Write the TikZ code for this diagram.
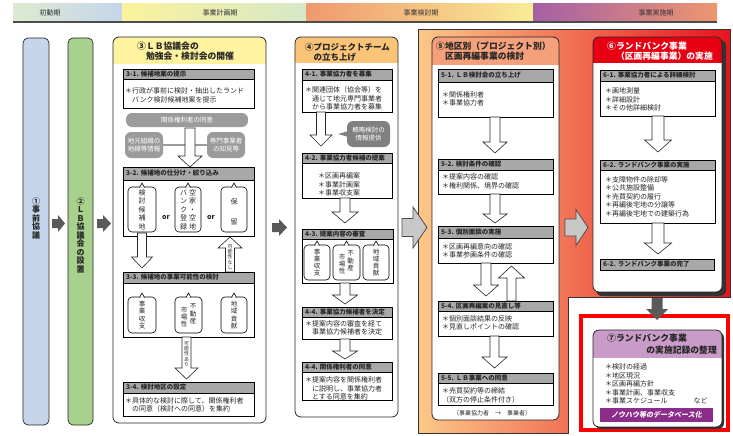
\documentclass[tikz,border=0pt]{standalone}
\usepackage{fontspec}
\setmainfont{Noto Sans CJK JP}
\newfontfamily\jpsl[FakeSlant=0.2]{Noto Sans CJK JP}
\definecolor{cA}{RGB}{197,213,235}
\definecolor{cB}{RGB}{169,209,142}
\definecolor{cC}{RGB}{255,243,160}
\definecolor{cD}{RGB}{250,196,120}
\definecolor{cE}{RGB}{244,160,122}
\definecolor{cF}{RGB}{230,0,18}
\definecolor{cG}{RGB}{200,155,200}
\definecolor{purp}{RGB}{140,45,140}
\definecolor{hdr}{RGB}{168,168,168}
\definecolor{pillg}{RGB}{155,155,155}
\definecolor{pilld}{RGB}{128,128,128}
\definecolor{darkarr}{RGB}{90,90,90}
\definecolor{lgarr}{RGB}{200,200,200}
\definecolor{bAl}{RGB}{221,234,209}\definecolor{bAr}{RGB}{197,213,235}
\definecolor{bBl}{RGB}{250,243,155}\definecolor{bBr}{RGB}{215,231,200}
\definecolor{bCl}{RGB}{240,152,110}\definecolor{bCr}{RGB}{248,236,150}
\definecolor{bDl}{RGB}{165,95,165}\definecolor{bDr}{RGB}{238,150,112}
\definecolor{bgl}{RGB}{252,200,136}\definecolor{bgm}{RGB}{240,108,78}\definecolor{bgr}{RGB}{230,20,30}
\tikzset{
 itm/.style={font=\fontsize{7}{8.5}\selectfont, align=left, inner sep=0pt, anchor=west, text=black!85},
 ttl/.style={font=\bfseries\fontsize{6.5}{7}\selectfont, inner sep=0pt, anchor=west, text=black!85},
 ctitle/.style={font=\bfseries\fontsize{8.8}{10.3}\selectfont, align=left, inner sep=0pt, anchor=west, text=black!85},
 vt/.style={font=\fontsize{7}{8.5}\selectfont, align=center, inner sep=0pt, text=black!85},
 vtb/.style={font=\fontsize{6.5}{7.3}\selectfont, align=center, inner sep=0pt, text=black!85},
 vsm/.style={font=\fontsize{5}{5.3}\selectfont, align=center, inner sep=0pt, text=black!85},
 vcol/.style={font=\bfseries\fontsize{8}{8.5}\selectfont, align=center, inner sep=0pt, anchor=north, text=black!85},
 band/.style={font=\fontsize{7}{8}\selectfont, inner sep=0pt, text=black!80},
 pill/.style={fill=pillg, text=white, rounded corners=6pt, font=\fontsize{6.5}{7.5}\selectfont, align=center, inner sep=0pt},
 barr/.style={fill=white, draw=black!85, line width=0.6pt},
 darr/.style={fill=darkarr},
 larr/.style={fill=lgarr, draw=black!70, line width=0.8pt},
 orw/.style={font=\bfseries\fontsize{7}{8}\selectfont, inner sep=0pt, text=black!85}
}
% column box: x1,y1,x2,y2,yh,colour
\newcommand\mycol[6]{%
 \begin{scope}
 \clip[rounded corners=6pt] (#1,#2) rectangle (#3,#4);
 \fill[white] (#1,#2) rectangle (#3,#4);
 \fill[#6] (#1,#2) rectangle (#3,#5);
 \end{scope}
 \draw[rounded corners=6pt, line width=0.8pt, draw=black!85] (#1,#2) rectangle (#3,#4);}
% inner box: name,x1,y1,x2,yh,y2,title
\newcommand\myin[7]{%
 \draw[line width=0.6pt, fill=white] (#2,#3) rectangle (#4,#6);
 \draw[line width=0.6pt, fill=hdr] (#2,#3) rectangle (#4,#5);
 \node[ttl] (#1) at ({#2+3},{(#3+#5)/2}) {#7};}
% notched box: x1,y1,x2,y2
\newcommand\mynb[4]{%
 \draw[line width=0.6pt, fill=white, rounded corners=4pt] (#1,#2) rectangle (#3,#4);
 \filldraw[line width=0.6pt, fill=white] ({(#1+#3)/2-2.5},{#2+0.6}) -- ({(#1+#3)/2},{#2-4}) -- ({(#1+#3)/2+2.5},{#2+0.6});}
% vertical block arrow: x,ystart,yhead,ytip,s,h,style
\newcommand\myvarr[7]{%
 \path[#7] ({#1-#5},#2) -- ({#1+#5},#2) -- ({#1+#5},#3) -- ({#1+#6},#3) -- (#1,#4) -- ({#1-#6},#3) -- ({#1-#5},#3) -- cycle;}
% horizontal block arrow: x0,xhead,xtip,yc,s,h,style
\newcommand\myharr[7]{%
 \path[#7] (#1,{#4-#5}) -- (#2,{#4-#5}) -- (#2,{#4-#6}) -- (#3,#4) -- (#2,{#4+#6}) -- (#2,{#4+#5}) -- (#1,{#4+#5}) -- cycle;}
\begin{document}
\begin{tikzpicture}[x=1pt,y=-1pt]
\useasboundingbox (0,0) rectangle (733,436);
% top band
\shade[left color=bAl,right color=bAr] (13,4) rectangle (122,21);
\shade[left color=bBl,right color=bBr] (122,4) rectangle (306,21);
\shade[left color=bCl,right color=bCr] (306,4) rectangle (533,21);
\shade[left color=bDl,right color=bDr] (533,4) rectangle (717,21);
\fill[black!70] (13,21) rectangle (717,23.5);
\node[band] (pA) at (50,12.5) {初動期};
\node[band] (pB) at (220,12.5) {事業計画期};
\node[band] (pC) at (421,12.5) {事業検討期};
\node[band] (pD) at (656,12.5) {事業実施期};
% background of 5/6
\path[left color=bgl, middle color=bgm, right color=bgr] (418,30) -- (730,30) -- (730,297) -- (568,297) -- (568,433) -- (418,433) -- cycle;
\draw[line width=1pt, black!80] (418,30) -- (730,30) -- (730,297) -- (568,297) -- (568,433) -- (418,433) -- cycle;
\draw[red, line width=4.5pt] (581,316) rectangle (728,430);
% columns 1 and 2
\draw[rounded corners=5pt, fill=cA, line width=0.7pt, draw=black!85] (23,38) rectangle (49,425);
\node[vcol] (n1) at (36,197) {①\\事\\前\\協\\議};
\draw[rounded corners=5pt, fill=cB, line width=0.7pt, draw=black!85] (68,38) rectangle (93,425);
\node[vcol] (n2) at (80.5,197) {②\\Ｌ\\Ｂ\\協\\議\\会\\の\\設\\置};
\myharr{52}{58}{65}{223.5}{4.5}{8.5}{darr}
\myharr{97}{103}{111}{223.5}{4.5}{8.5}{darr}
% column 3
\mycol{113}{37}{266}{423}{64}{cC}
\node[ctitle] (t3) at (137,51) {③ＬＢ協議会の\\　勉強会・検討会の開催};
\myin{h31}{123}{69}{254}{79}{108}{3-1. 候補地案の提示}
\node[itm] (b31) at (125,95.5) {＊行政が事前に検討・抽出したランド\\　バンク検討候補地案を提示};
\node[pill, minimum width=122pt, minimum height=14pt] (p31) at (187,120) {関係権利者の同意};
\node[pill, minimum width=38pt, minimum height=26pt] (p32) at (144,145) {地元組織の\\地縁等情報};
\node[pill, minimum width=38pt, minimum height=26pt] (p33) at (226,145) {専門事業者\\の知見等};
\draw[pillg, line width=1.5pt] (p32.east) -- (186,145);
\draw[pillg, line width=1.5pt] (p33.west) -- (194,145);
\myvarr{190}{128}{156}{167}{5}{12}{barr}
\myin{h32}{123}{167}{254}{180}{236}{3-2. 候補地の仕分け・絞り込み}
\mynb{128}{187}{156}{232}
\mynb{175}{187}{201}{232}
\mynb{221}{187}{247}{232}
\node[vt] (v321) at (142,209.5) {検\\討\\候\\補\\地};
\node[vt] (v322a) at (192.5,209.5) {空\\家\\・\\空\\地};
\node[vt] (v322b) at (183.5,209.5) {バ\\ン\\ク\\登\\録};
\node[vt] (v323) at (234,212) {保\\[11pt]留};
\node[orw] (or1) at (166,218) {or};
\node[orw] (or2) at (211,218) {or};
\myvarr{142}{233}{257}{268}{4.5}{10.5}{barr}
\myvarr{230}{272}{248}{237}{4.5}{12}{barr}
\node[vsm] (kn) at (230,257) {可\\能\\性\\な\\し};
\myin{h33}{123}{272}{254}{283}{337}{3-3. 候補地の事業可能性の検討}
\mynb{128}{297}{156}{333}
\mynb{175}{297}{202}{333}
\mynb{221}{297}{247}{333}
\node[vtb] (v331) at (142,315) {事\\業\\収\\支};
\node[vtb] (v332a) at (193,314) {不\\動\\産};
\node[vtb] (v332b) at (184,317) {市\\場\\性};
\node[vtb] (v333) at (234,315) {地\\域\\貢\\献};
\myvarr{186.5}{337}{368}{379}{4.5}{11.5}{barr}
\node[vsm] (ka) at (186.5,354) {可\\能\\性\\あ\\り};
\myin{h34}{123}{382}{254}{393}{416}{3-4. 検討地区の設定}
\node[itm] (b34) at (125,405) {＊具体的な検討に際して、関係権利者\\　の同意（検討への同意）を集約};
\myharr{272}{279}{287}{227.5}{4.5}{8.5}{darr}
% column 4
\mycol{295}{37}{398}{417}{63}{cD}
\node[ctitle, font=\bfseries\fontsize{8.5}{10}\selectfont] (t4) at (305,52) {④プロジェクトチーム\\　の立ち上げ};
\myin{h41}{302}{69}{392}{80}{112}{4-1. 事業協力者を募集}
\node[itm] (b41) at (305,98.5) {＊関連団体（協会等）を\\　通じて地元専門事業者\\　から事業協力者を募集};
\myvarr{321}{112}{135}{146}{4.5}{11}{barr}
\node[pill, fill=pilld, minimum width=43pt, minimum height=26pt] (p41) at (368.5,134) {概略検討の\\情報提供};
\fill[pilld] ([yshift=2.5pt]p41.west) -- (338,134) -- ([yshift=-2.5pt]p41.west) -- cycle;
\myin{h42}{302}{153}{392}{163}{198}{4-2. 事業協力者候補の提案}
\node[itm] (b42) at (318,184.5) {＊区画再編案\\＊事業計画案\\＊事業収支案};
\myvarr{345}{198}{212}{223}{5}{13}{barr}
\myin{h43}{302}{229}{393}{239}{283}{4-3. 提案内容の審査}
\mynb{304}{245}{330}{280}
\mynb{333}{245}{360}{280}
\mynb{363}{245}{389}{280}
\node[vtb] (v431) at (317,262.5) {事\\業\\収\\支};
\node[vtb] (v432a) at (350.5,261) {不\\動\\産};
\node[vtb] (v432b) at (342,264) {市\\場\\性};
\node[vtb] (v433) at (376,262.5) {地\\域\\貢\\献};
\myvarr{345}{283}{295}{304}{5}{12.5}{barr}
\myin{h44}{302}{307}{392}{317}{339}{4-4. 事業協力候補者を決定}
\node[itm, font=\fontsize{7}{8}\selectfont] (b44) at (305,327.5) {＊提案内容の審査を経て\\　事業協力候補者を決定};
\myvarr{345}{339}{351}{359}{5}{12.5}{barr}
\myin{h45}{302}{362}{392}{372}{400}{4-4. 関係権利者の同意}
\node[itm] (b45) at (305,388.5) {＊提案内容を関係権利者\\　に説明し、事業協力者\\　とする同意を集約};
\myharr{402}{413}{427}{227.5}{9}{20.5}{larr}
% column 5
\mycol{432}{37}{559}{420}{65}{cE}
\node[ctitle] (t5) at (436,51) {⑤地区別（プロジェクト別）\\　区画再編事業の検討};
\myin{h51}{438}{69}{553}{82}{117}{5-1. ＬＢ検討会の立ち上げ}
\node[itm] (b51) at (442,99) {＊関係権利者\\＊事業協力者};
\myvarr{495}{117}{142}{153}{5}{12}{barr}
\myin{h52}{438}{159}{553}{170}{194}{5-2. 検討条件の確認}
\node[itm] (b52) at (442,181.5) {＊提案内容の確認\\＊権利関係、境界の確認};
\myvarr{495}{194}{214}{223}{5}{12}{barr}
\myin{h53}{438}{226}{553}{238}{263}{5-3. 個別面談の実施}
\node[itm] (b53) at (442,251) {＊区画再編意向の確認\\＊事業参画条件の確認};
\myvarr{486}{263}{285}{296}{5}{12.5}{barr}
\myvarr{511.5}{301}{278}{266}{4.5}{13}{barr}
\myin{h54}{438}{301}{553}{311}{336}{5-4. 区画再編案の見直し等}
\node[itm] (b54) at (442,323) {＊個別面談結果の反映\\＊見直しポイントの確認};
\myvarr{494.5}{336}{357}{368}{4.5}{12.5}{barr}
\myin{h55}{438}{373}{553}{383}{405}{5-5. ＬＢ事業への同意}
\node[itm] (b55) at (442,395.5) {＊売買契約等の締結\\（双方の停止条件付き）};
\node[inner sep=0pt, font=\fontsize{6}{7}\selectfont, text=black!85] (n55) at (492,413) {（事業協力者　→　事業者）};
\myharr{565}{576}{588}{227.5}{8.5}{18}{larr}
% column 6
\fill[black!80, rounded corners=6pt] (596,40) rectangle (726,296);
\mycol{593}{37}{722}{292}{63}{cF}
\node[ctitle, text=white] (t6) at (607,51) {⑥ランドバンク事業\\　（区画再編事業）の実施};
\myin{h61}{600}{70}{715}{81}{116}{6-1. 事業協力者による詳細検討}
\node[itm] (b61) at (605,99.5) {＊画地測量\\＊詳細設計\\＊その他詳細検討};
\myvarr{658}{116}{140}{152}{6}{13.5}{barr}
\myin{h62}{600}{160}{715}{170}{223}{6-2. ランドバンク事業の実施}
\node[itm] (b62) at (605,196.5) {＊支障物件の除却等\\＊公共施設整備\\＊売買契約の履行\\＊再編後宅地の分譲等\\＊再編後宅地での建築行為};
\myvarr{658}{223}{243}{254}{6}{13.5}{barr}
\draw[fill=hdr, line width=0.6pt] (600,259) rectangle (714,270);
\node[ttl] (h63) at (603,264.5) {6-2. ランドバンク事業の完了};
\myvarr{657}{298}{309}{320}{5.5}{11}{darr}
% column 7
\fill[black!80, rounded corners=6pt] (595,332) rectangle (724,429);
\mycol{593}{330}{722}{427}{358}{cG}
\node[ctitle, anchor=west] (t7a) at (607,338) {⑦ランドバンク事業};
\node[ctitle, anchor=east] (t7b) at (717,350) {の実施記録の整理};
\node[itm] (b7) at (605,384) {＊検討の経過\\＊地区現況\\＊区画再編方針\\＊事業計画、事業収支\\＊事業スケジュール\hspace{26pt}など};
\node[fill=purp, text=white, minimum width=113pt, minimum height=14pt, inner sep=0pt, font=\jpsl\bfseries\fontsize{7}{8}\selectfont] (db) at (656.5,415) {ノウハウ等のデータベース化};
\end{tikzpicture}
\end{document}
